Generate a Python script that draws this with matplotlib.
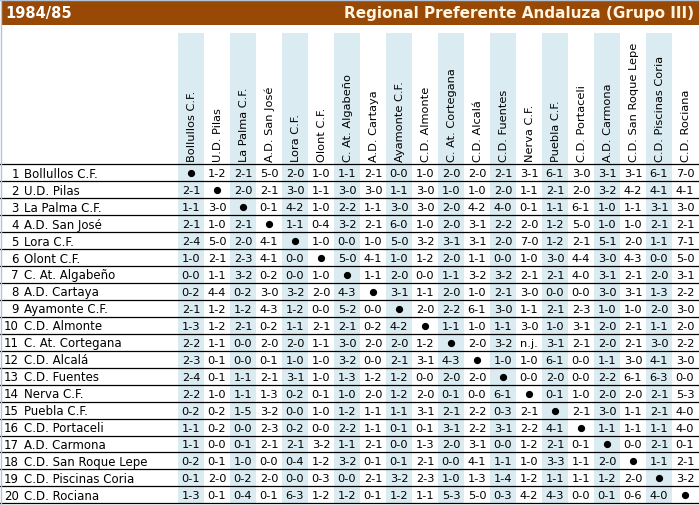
import matplotlib
matplotlib.use('Agg')
import matplotlib.pyplot as plt
from matplotlib.patches import Rectangle

# equipos (fila / columna)
teams = ['Bollullos C.F.', 'U.D. Pilas', 'La Palma C.F.', 'A.D. San José', 'Lora C.F.',
         'Olont C.F.', 'C. At. Algabeño', 'A.D. Cartaya', 'Ayamonte C.F.', 'C.D. Almonte',
         'C. At. Cortegana', 'C.D. Alcalá', 'C.D. Fuentes', 'Nerva C.F.', 'Puebla C.F.',
         'C.D. Portaceli', 'A.D. Carmona', 'C.D. San Roque Lepe', 'C.D. Piscinas Coria',
         'C.D. Rociana']

season = '1984/85'
league = 'Regional Preferente Andaluza (Grupo III)'

# resultados, '*' = mismo equipo
r01 = ['*', '1-2', '2-1', '5-0', '2-0', '1-0', '1-1', '2-1', '0-0', '1-0', '2-0', '2-0', '2-1', '3-1', '6-1', '3-0', '3-1', '3-1', '6-1', '7-0']
r02 = ['2-1', '*', '2-0', '2-1', '3-0', '1-1', '3-0', '3-0', '1-1', '3-0', '1-0', '1-0', '2-0', '1-1', '2-1', '2-0', '3-2', '4-2', '4-1', '4-1']
r03 = ['1-1', '3-0', '*', '0-1', '4-2', '1-0', '2-2', '1-1', '3-0', '3-0', '2-0', '4-2', '4-0', '0-1', '1-1', '6-1', '1-0', '1-1', '3-1', '3-0']
r04 = ['2-1', '1-0', '2-1', '*', '1-1', '0-4', '3-2', '2-1', '6-0', '1-0', '2-0', '3-1', '2-2', '2-0', '1-2', '5-0', '1-0', '1-0', '2-1', '2-1']
r05 = ['2-4', '5-0', '2-0', '4-1', '*', '1-0', '0-0', '1-0', '5-0', '3-2', '3-1', '3-1', '2-0', '7-0', '1-2', '2-1', '5-1', '2-0', '1-1', '7-1']
r06 = ['1-0', '2-1', '2-3', '4-1', '0-0', '*', '5-0', '4-1', '1-0', '1-2', '2-0', '1-1', '0-0', '1-0', '3-0', '4-4', '3-0', '4-3', '0-0', '5-0']
r07 = ['0-0', '1-1', '3-2', '0-2', '0-0', '1-0', '*', '1-1', '2-0', '0-0', '1-1', '3-2', '3-2', '2-1', '2-1', '4-0', '3-1', '2-1', '2-0', '3-1']
r08 = ['0-2', '4-4', '0-2', '3-0', '3-2', '2-0', '4-3', '*', '3-1', '1-1', '2-0', '1-0', '2-1', '3-0', '0-0', '0-0', '3-0', '3-1', '1-3', '2-2']
r09 = ['2-1', '1-2', '1-2', '4-3', '1-2', '0-0', '5-2', '0-0', '*', '2-0', '2-2', '6-1', '3-0', '1-1', '2-1', '2-3', '1-0', '1-0', '2-0', '3-0']
r10 = ['1-3', '1-2', '2-1', '0-2', '1-1', '2-1', '2-1', '0-2', '4-2', '*', '1-1', '1-0', '1-1', '3-0', '1-0', '3-1', '2-0', '2-1', '1-1', '2-0']
r11 = ['2-2', '1-1', '0-0', '2-0', '2-0', '1-1', '3-0', '2-0', '2-0', '1-2', '*', '2-0', '3-2', 'n.j.', '3-1', '2-1', '2-0', '2-1', '3-0', '2-2']
r12 = ['2-3', '0-1', '0-0', '0-1', '1-0', '1-0', '3-2', '0-0', '2-1', '3-1', '4-3', '*', '1-0', '1-0', '6-1', '0-0', '1-1', '3-0', '4-1', '3-0']
r13 = ['2-4', '0-1', '1-1', '2-1', '3-1', '1-0', '1-3', '1-2', '1-2', '0-0', '2-0', '2-0', '*', '0-0', '2-0', '0-0', '2-2', '6-1', '6-3', '0-0']
r14 = ['2-2', '1-0', '1-1', '1-3', '0-2', '0-1', '1-0', '2-0', '1-2', '2-0', '0-1', '0-0', '6-1', '*', '0-1', '1-0', '2-0', '2-0', '2-1', '5-3']
r15 = ['0-2', '0-2', '1-5', '3-2', '0-0', '1-0', '1-2', '1-1', '1-1', '3-1', '2-1', '2-2', '0-3', '2-1', '*', '2-1', '3-0', '1-1', '2-1', '4-0']
r16 = ['1-1', '0-2', '0-0', '2-3', '0-2', '0-0', '2-2', '1-1', '0-1', '0-1', '3-1', '2-2', '3-1', '2-2', '4-1', '*', '1-1', '1-1', '1-1', '4-0']
r17 = ['1-1', '0-0', '0-1', '2-1', '2-1', '3-2', '1-1', '2-1', '0-0', '1-3', '2-0', '3-1', '0-0', '1-2', '2-1', '0-1', '*', '0-0', '2-1', '0-1']
r18 = ['0-2', '0-1', '1-0', '0-0', '0-4', '1-2', '3-2', '0-1', '0-1', '2-1', '0-0', '4-1', '1-1', '1-0', '3-3', '1-1', '2-0', '*', '1-1', '2-1']
r19 = ['0-1', '2-0', '0-2', '2-0', '0-0', '0-3', '0-0', '2-1', '3-2', '2-3', '1-0', '1-3', '1-4', '1-2', '1-1', '1-1', '1-2', '2-0', '*', '3-2']
r20 = ['1-3', '0-1', '0-4', '0-1', '6-3', '1-2', '1-2', '0-1', '1-2', '1-1', '5-3', '5-0', '0-3', '4-2', '4-3', '0-0', '0-1', '0-6', '4-0', '*']
results = [r01, r02, r03, r04, r05, r06, r07, r08, r09, r10,
           r11, r12, r13, r14, r15, r16, r17, r18, r19, r20]

W, H = 699, 506
fig = plt.figure(figsize=(W / 100, H / 100), dpi=100)
ax = fig.add_axes([0, 0, 1, 1])
ax.set_xlim(0, W)
ax.set_ylim(H, 0)
ax.axis('off')

x0, cw = 178, 26      # primera columna y ancho
y0, rh = 165.3, 16.95  # linea de cabecera y alto de fila
shade = '#daecf2'
fs = 8.2

# barra de titulo
ax.add_patch(Rectangle((1, 1), W - 1, 25, color='#974905', lw=0))
ax.text(5, 13.5, season, color='white', fontsize=10.5, fontweight='bold', va='center', ha='left')
ax.text(694, 13.5, league, color='#fff4e0', fontsize=11, fontweight='bold', va='center', ha='right')

# columnas sombreadas
for j in range(len(teams)):
    if j % 2 == 0:
        ax.add_patch(Rectangle((x0 + j * cw, 34), cw, y0 + rh * len(teams) - 34, color=shade, lw=0))

# cabeceras verticales
for j, t in enumerate(teams):
    ax.text(x0 + j * cw + cw / 2 + 1, 162, t, rotation=90, fontsize=fs, ha='center', va='bottom')

# lineas horizontales
for i in range(len(teams) + 1):
    ax.plot([0, W], [y0 + i * rh] * 2, color='black', lw=0.9)

# filas
for i, t in enumerate(teams):
    yc = y0 + i * rh + rh / 2 + 0.5
    ax.text(19, yc, str(i + 1), fontsize=fs + 0.3, ha='right', va='center')
    ax.text(24, yc, t, fontsize=fs + 0.3, ha='left', va='center')
    for j, res in enumerate(results[i]):
        xc = x0 + j * cw + cw / 2
        if res == '*':
            ax.plot(xc, yc, 'o', color='black', ms=4.2)
        else:
            ax.text(xc, yc, res, fontsize=fs, ha='center', va='center')

# borde
ax.plot([0.5, 0.5], [0, H], color='#b4c4d8', lw=1)
ax.plot([0, W], [0.5, 0.5], color='#b4c4d8', lw=1)

fig.savefig('out.png', dpi=100)
